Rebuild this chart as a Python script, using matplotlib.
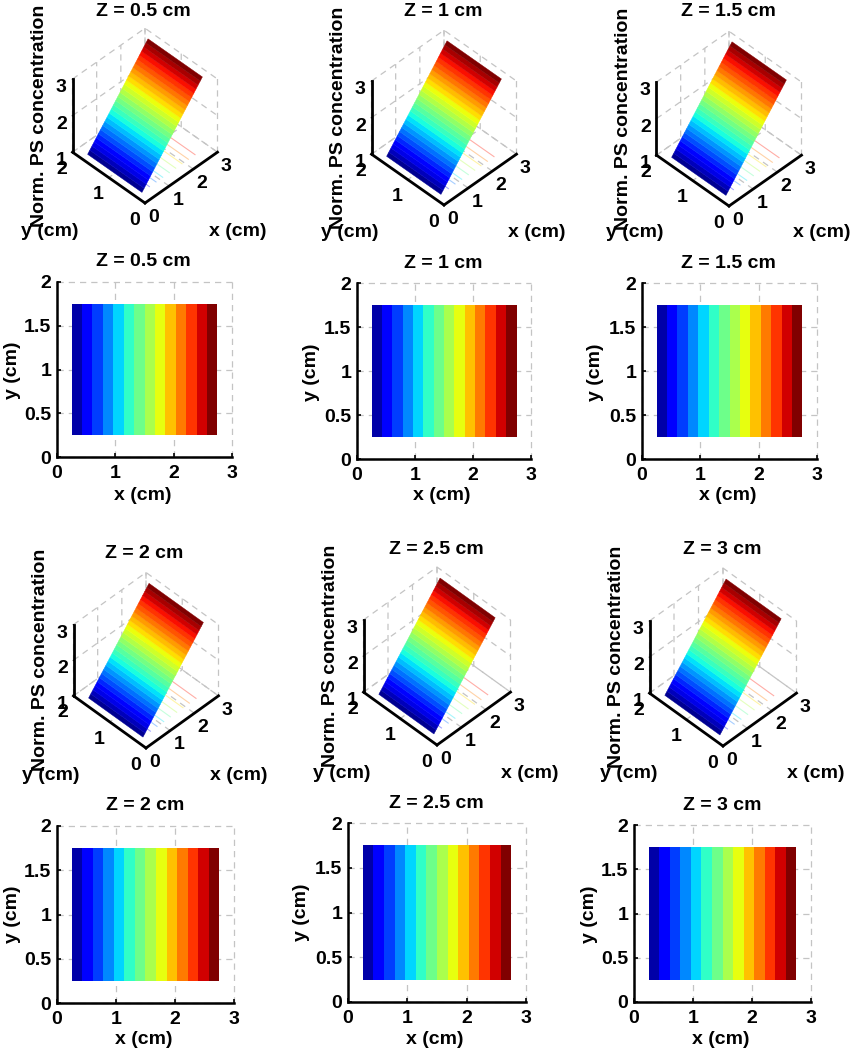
import numpy as np
import matplotlib
matplotlib.use("Agg")
import matplotlib.pyplot as plt
from matplotlib.colors import Normalize
from mpl_toolkits.mplot3d import proj3d

W, H = 850, 1050
plt.rcParams.update({
    "font.family": ["Liberation Sans", "DejaVu Sans"],
    "font.weight": "bold", "font.size": 14,
    "axes.labelweight": "bold", "axes.titleweight": "bold",
    "grid.color": "#c4c4c4", "grid.linestyle": (0, (5, 4)), "grid.linewidth": 0.9,
})

titles = ["Z = 0.5 cm", "Z = 1 cm", "Z = 1.5 cm", "Z = 2 cm", "Z = 2.5 cm", "Z = 3 cm"]
# bands
x_grid = [0.25, 0.429, 0.607, 0.786, 0.964, 1.143, 1.321, 1.5,
          1.679, 1.857, 2.036, 2.214, 2.393, 2.571, 2.75]
y_grid = [0.25, 1.75]
conc = [1.0, 1.143, 1.286, 1.429, 1.571, 1.714, 1.857, 2.0,
        2.143, 2.286, 2.429, 2.571, 2.714, 2.857, 3.0]
# finer bands
x_grid_3d = [0.25, 0.339, 0.429, 0.518, 0.607, 0.696, 0.786, 0.875, 0.964, 1.054,
             1.143, 1.232, 1.321, 1.411, 1.5, 1.589, 1.679, 1.768, 1.857, 1.946,
             2.036, 2.125, 2.214, 2.304, 2.393, 2.482, 2.571, 2.661, 2.75]
conc_3d = [1.0, 1.071, 1.143, 1.214, 1.286, 1.357, 1.429, 1.5, 1.571, 1.643,
           1.714, 1.786, 1.857, 1.929, 2.0, 2.071, 2.143, 2.214, 2.286, 2.357,
           2.429, 2.5, 2.571, 2.643, 2.714, 2.786, 2.857, 2.929, 3.0]
contour_levels = [1.26, 1.48, 1.70, 1.92, 2.13, 2.34, 2.55, 2.77]
x_ticks = [0, 1, 2, 3]
y_ticks_3d = [0, 1, 2]
z_ticks = [1, 2, 3]
y_ticks_2d = [0, 0.5, 1, 1.5, 2]
y_tick_labels_2d = ["0", "0.5", "1", "1.5", "2"]

# layout in reference pixels
# 3D: origin px, half-width px, elevation, title centre, x label centre, y label centre
layout3d = [
    ((145, 203), 72.5, 44.5, (143, 11), (238, 231), (50, 231)),
    ((444, 205), 72.5, 44.5, (443, 11), (537, 232), (350, 232)),
    ((729, 206), 72.5, 44.5, (728, 12), (822, 232), (635, 232)),
    ((146, 748), 72.5, 46.0, (144, 553), (239, 776), (51, 776)),
    ((437, 745), 73.5, 46.0, (436, 549), (530, 773), (342, 773)),
    ((723, 746), 73.5, 46.0, (722, 549), (816, 773), (629, 773)),
]
# 2D: left, right, top, bottom, title centre, x label centre, y label centre
layout2d = [
    (57, 232, 282, 457, (143, 261), (143, 495), (12, 370)),
    (357, 531, 283, 459, (443, 263), (442, 496), (311, 372)),
    (642, 817, 283, 459, (728, 263), (728, 496), (596, 372)),
    (57, 234, 826, 1003, (145, 806), (144, 1040), (12, 914)),
    (348, 526, 823, 1002, (436, 804), (435, 1040), (301, 912)),
    (634, 811, 825, 1002, (722, 805), (721, 1040), (589, 914)),
]

X3, Y3 = np.meshgrid(x_grid_3d, y_grid)
Z3 = np.array([conc_3d, conc_3d])
mid = (np.array(conc[:-1]) + np.array(conc[1:])) / 2
mid3 = (np.array(conc_3d[:-1]) + np.array(conc_3d[1:])) / 2
norm = Normalize(1.0, mid[-1])
norm3 = Normalize(1.0, mid3[-1])
face = plt.cm.jet(norm3(mid3))[None, :, :]

fig = plt.figure(figsize=(W / 100, H / 100), dpi=100)


def fx(p):
    return p / W


def fy(p):
    return 1 - p / H


def place_3d(ax, origin, half):
    M = ax.get_proj()
    x0, y0, _ = proj3d.proj_transform(0, 0, 1, M)
    x1, _, _ = proj3d.proj_transform(3, 0, 1, M)
    vl = ax.viewLim
    wv, hv = vl.x1 - vl.x0, vl.y1 - vl.y0
    wpx = half * wv / (x1 - x0)
    left = origin[0] - (x0 - vl.x0) / wv * wpx
    bottom = (H - origin[1]) - (y0 - vl.y0) / hv * wpx
    ax.set_position([left / W, bottom / H, wpx / W, wpx / H])
    return left, bottom, wpx


for i in range(6):
    origin, half, elev, tc, xc, yc = layout3d[i]
    ax = fig.add_subplot(projection="3d", proj_type="ortho", computed_zorder=False)
    ax.patch.set_alpha(0)
    ax.set_box_aspect((1, 1, 1))
    ax.view_init(elev=elev, azim=-135)

    ax.contour(X3, Y3, Z3, levels=contour_levels, zdir="z", offset=1, cmap="jet",
               vmin=1, vmax=3, linewidths=0.8, alpha=0.35, zorder=1)
    ax.plot_surface(X3, Y3, Z3, rstride=1, cstride=1, facecolors=face,
                    shade=False, linewidth=0.3, antialiased=True, zorder=2)

    ax.set_xticks(x_ticks)
    ax.set_yticks(y_ticks_3d)
    ax.set_zticks(z_ticks)
    ax.set_xlim(0, 3, view_margin=0)
    ax.set_ylim(0, 2, view_margin=0)
    ax.set_zlim(1, 3, view_margin=0)
    left, bottom, wpx = place_3d(ax, origin, half)
    ax.zaxis.set_ticks_position("upper")
    ax.zaxis.set_label_position("upper")
    for axis in (ax.xaxis, ax.yaxis, ax.zaxis):
        axis.set_pane_color((1, 1, 1, 0))
        axis.pane.set_edgecolor("none")
        axis.line.set_color("black")
        axis.line.set_linewidth(2.0)
        axis._axinfo["tick"].update(inward_factor=0.03, outward_factor=0.0)
        axis._axinfo["tick"]["color"] = "black"
    ax.tick_params(axis="x", pad=-5)
    ax.tick_params(axis="y", pad=-3.5)
    ax.tick_params(axis="z", pad=-3)
    for t in ax.xaxis.get_major_ticks():
        t.label1.set_ha("left")
    for t in ax.yaxis.get_major_ticks():
        t.label1.set_ha("right")
    ax.zaxis.set_rotate_label(False)
    ax.set_zlabel("Norm. PS concentration", rotation=90, labelpad=-6.5)
    ax.set_title(titles[i], x=(tc[0] - left) / wpx, y=((H - tc[1]) - bottom) / wpx / 0.92,
                 va="center", ha="center", fontsize=14, pad=0)
    ax.text2D(fx(xc[0]), fy(xc[1]), "x (cm)", transform=fig.transFigure, ha="center", va="center")
    ax.text2D(fx(yc[0]), fy(yc[1]), "y (cm)", transform=fig.transFigure, ha="center", va="center")

for i in range(6):
    l, r, t, b, tc, xc, yc = layout2d[i]
    ax = fig.add_axes([l / W, (H - b) / H, (r - l) / W, (b - t) / H])
    ax.pcolormesh(x_grid, y_grid, np.array([mid]), cmap="jet", norm=norm,
                  shading="flat", linewidth=0, zorder=2.5)
    ax.set_xlim(0, 3)
    ax.set_ylim(0, 2)
    ax.set_xticks(x_ticks)
    ax.set_yticks(y_ticks_2d, y_tick_labels_2d)
    ax.grid(True)
    ax.set_axisbelow(True)
    ax.spines[["top", "right"]].set_visible(False)
    ax.spines[["left", "bottom"]].set_linewidth(1.8)
    ax.tick_params(direction="in", length=3, width=1.2, pad=6)
    ax.tick_params(axis="y", pad=4)
    for g in ax.get_xgridlines() + ax.get_ygridlines():
        g.set_clip_on(False)
    ax.set_xlabel("x (cm)")
    ax.set_ylabel("y (cm)")
    wd, ht = r - l, b - t
    ax.xaxis.set_label_coords((xc[0] - l) / wd, (b - xc[1]) / ht)
    ax.yaxis.set_label_coords((yc[0] - l) / wd, (b - yc[1]) / ht)
    ax.xaxis.label.set_va("center")
    ax.yaxis.label.set_va("center")
    ax.set_title(titles[i], x=(tc[0] - l) / wd, y=(b - tc[1]) / ht, va="center", ha="center",
                 fontsize=14, pad=0)

fig.savefig("out.png", dpi=100)
